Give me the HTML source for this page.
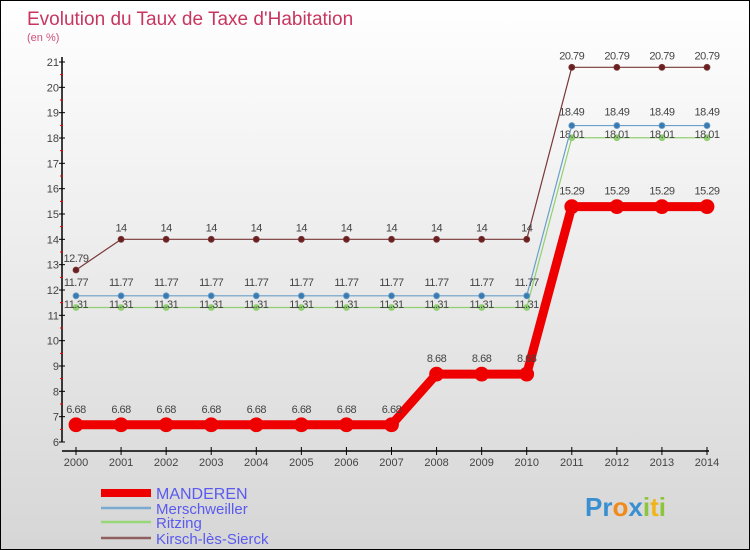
<!DOCTYPE html>
<html><head><meta charset="utf-8"><style>
body{margin:0;}
#wrap{position:relative;width:748px;height:548px;border:1px solid #000;background:linear-gradient(#ffffff,#d6d6d6);overflow:hidden;font-family:"Liberation Sans",sans-serif;}
svg text{font-family:"Liberation Sans",sans-serif;}
</style></head><body>
<div id="wrap">
<svg id="chart" width="748" height="548">
<text x="26" y="24" font-size="19" fill="#c8365f">Evolution du Taux de Taxe d'Habitation</text>
<text x="26" y="40" font-size="11" fill="#d0507a">(en %)</text>
<g id="axes"></g>
<g id="series"></g>
<g id="legend"></g>
<text x="584" y="515" font-size="26" font-weight="bold"><tspan fill="#3a8fd0">Pr</tspan><tspan fill="#f08a1c">o</tspan><tspan fill="#3a8fd0">x</tspan><tspan fill="#8cc43c">i</tspan><tspan fill="#f0b41c">t</tspan><tspan fill="#8cc43c">i</tspan></text>
</svg>
</div>
<script>
const years=[2000,2001,2002,2003,2004,2005,2006,2007,2008,2009,2010,2011,2012,2013,2014];
const manderen=[6.68,6.68,6.68,6.68,6.68,6.68,6.68,6.68,8.68,8.68,8.68,15.29,15.29,15.29,15.29];
const merschweiller=[11.77,11.77,11.77,11.77,11.77,11.77,11.77,11.77,11.77,11.77,11.77,18.49,18.49,18.49,18.49];
const ritzing=[11.31,11.31,11.31,11.31,11.31,11.31,11.31,11.31,11.31,11.31,11.31,18.01,18.01,18.01,18.01];
const kirsch=[12.79,14,14,14,14,14,14,14,14,14,14,20.79,20.79,20.79,20.79];
const yTicks=[6,7,8,9,10,11,12,13,14,15,16,17,18,19,20,21];
const seriesNames=["MANDEREN","Merschweiller","Ritzing","Kirsch-lès-Sierck"];

const NS="http://www.w3.org/2000/svg";
function xs(i){return 75+(706-75)*(years[i]-years[0])/(years[years.length-1]-years[0]);}
function ys(v){return 441-(v-6)*(441-61)/(21-6);}
function mk(tag,attrs,parent){const e=document.createElementNS(NS,tag);for(const k in attrs)e.setAttribute(k,attrs[k]);parent.appendChild(e);return e;}
const axes=document.getElementById('axes');
let yl=mk('line',{x1:61,y1:56,x2:61,y2:441,stroke:'#000','stroke-width':1.5},axes);


let xl=mk('line',{x1:61,y1:450,x2:708,y2:450,stroke:'#000','stroke-width':1.5},axes);


yTicks.forEach(v=>{
  mk('line',{x1:58,y1:ys(v),x2:64,y2:ys(v),stroke:'#000'},axes);
  if(v<21) mk('line',{x1:59,y1:ys(v+0.5),x2:62,y2:ys(v+0.5),stroke:'#e00'},axes);
  const t=mk('text',{x:58,y:ys(v)+4,'font-size':11,fill:'#444','text-anchor':'end'},axes);
  t.textContent=v;
  
  
});
years.forEach((y,i)=>{
  mk('line',{x1:xs(i),y1:446,x2:xs(i),y2:454,stroke:'#000'},axes);
  const t=mk('text',{x:xs(i),y:465,'font-size':11,fill:'#444','text-anchor':'middle'},axes);
  t.textContent=y;
  
  
});
const ser=document.getElementById('series');
function fmt(v){return String(v).replace('.','.');}
function drawSeries(vals,color,w,r,fill,name,lab){
  const g=mk('g',{},ser);
  
  
  mk('polyline',{points:vals.map((v,i)=>xs(i)+','+ys(v)).join(' '),fill:'none',stroke:color,'stroke-width':w,'stroke-linejoin':'round'},g);
  vals.forEach((v,i)=>{
    const c=mk('circle',{cx:xs(i),cy:ys(v),r:r,fill:fill,stroke:color,'stroke-width':0.8},g);
    
    
    const t=mk('text',{x:xs(i),y:ys(v)-lab,'font-size':11,fill:'#444','text-anchor':'middle','letter-spacing':'-0.5'},g);
    t.textContent=fmt(v);
    
    
  });
}
drawSeries(kirsch,'#7a3838',1.2,3,'#6a2020','kirsch-series',8);
drawSeries(ritzing,'#90d070',1.2,3,'#90d070','ritzing-series',-0.5);
drawSeries(merschweiller,'#6aa0c8',1.2,3,'#3a7ab0','merschweiller-series',10);
drawSeries(manderen,'#ee0000',9,7,'#ee0000','manderen-series',12);
const leg=document.getElementById('legend');
const lc=['#ee0000','#7aaad0','#98d878','#906060'],lw=[8,2.5,2.5,2.5],ly=[493,508,522,538];
seriesNames.forEach((n,i)=>{
  const g=mk('g',{},leg);
  
  
  mk('line',{x1:100,y1:ly[i]-1,x2:150,y2:ly[i]-1,stroke:lc[i],'stroke-width':lw[i]},g);
  const t=mk('text',{x:155,y:ly[i]+5,'font-size':i==0?16:15,fill:'#5a5aee'},g);
  t.textContent=n;
});
</script>
</body></html>
